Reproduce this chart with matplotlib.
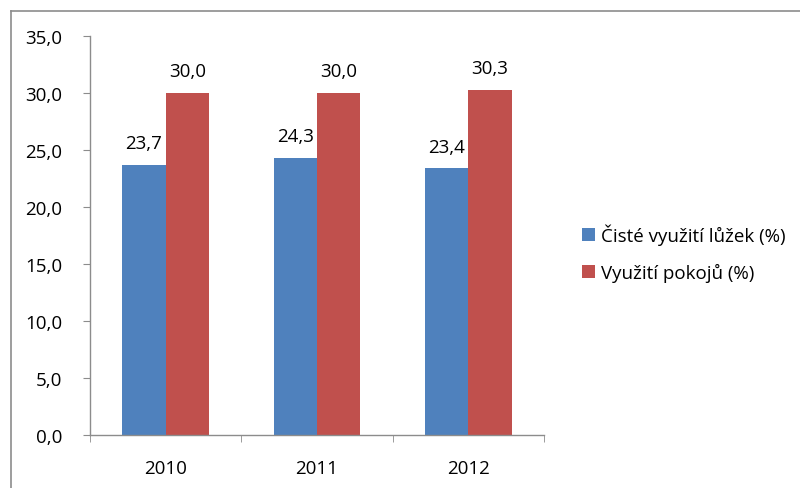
import matplotlib
matplotlib.use("Agg")
import matplotlib.pyplot as plt
import numpy as np
from matplotlib.lines import Line2D

years = ["2010", "2011", "2012"]
beds = [23.7, 24.3, 23.4]
rooms = [30.0, 30.0, 30.3]
series_names = ["Čisté využití lůžek (%)", "Využití pokojů (%)"]
yticks = [0, 5, 10, 15, 20, 25, 30, 35]

plt.rcParams['font.family'] = ['Open Sans', 'DejaVu Sans']
fs = 13.5

fig = plt.figure(figsize=(8, 4.89), dpi=100)
fig.patch.set_facecolor("white")

# outer chart frame
fig.add_artist(Line2D([11/800, 11/800], [0, 1 - 12/489], transform=fig.transFigure, color="#8c8c8c", lw=1.2))
fig.add_artist(Line2D([11/800, 1], [1 - 12/489, 1 - 12/489], transform=fig.transFigure, color="#8c8c8c", lw=1.2))

ax = fig.add_axes([90/800, 1 - 436/489, (544 - 90)/800, (436 - 37)/489])
x = np.arange(len(years))
w = 0.287
b1 = ax.bar(x - w/2, beds, w, color="#4F81BD", label=series_names[0])
b2 = ax.bar(x + w/2, rooms, w, color="#C0504D", label=series_names[1])

for rect, v in zip(list(b1) + list(b2), beds + rooms):
    ax.text(rect.get_x() + rect.get_width()/2, v + 1.1, f"{v:.1f}".replace(".", ","),
            ha="center", va="bottom", fontsize=fs, color="#000000")

ax.set_xlim(-0.5, 2.5)
ax.set_ylim(0, 35)
ax.set_yticks(yticks)
ax.set_yticklabels([f"{t:.1f}".replace(".", ",") for t in yticks], fontsize=fs)
ax.set_xticks(x)
ax.set_xticklabels(years, fontsize=fs)
ax.set_xticks([-0.5, 0.5, 1.5, 2.5], minor=True)
ax.tick_params(axis="x", which="major", length=0, pad=17)
ax.tick_params(axis="x", which="minor", length=5, color="#8c8c8c", direction="out")
ax.tick_params(axis="y", length=5, color="#8c8c8c", pad=15)

for s in ["top", "right"]:
    ax.spines[s].set_visible(False)
for s in ["left", "bottom"]:
    ax.spines[s].set_color("#8c8c8c")
    ax.spines[s].set_linewidth(1.0)

leg = fig.legend(handles=[b1, b2], labels=series_names, loc="upper left",
                 bbox_to_anchor=(565/800, 1 - 208/489), frameon=False, fontsize=fs,
                 handlelength=0.7, handleheight=0.7, handletextpad=0.3, labelspacing=0.95)

fig.savefig("out.png", dpi=100)
